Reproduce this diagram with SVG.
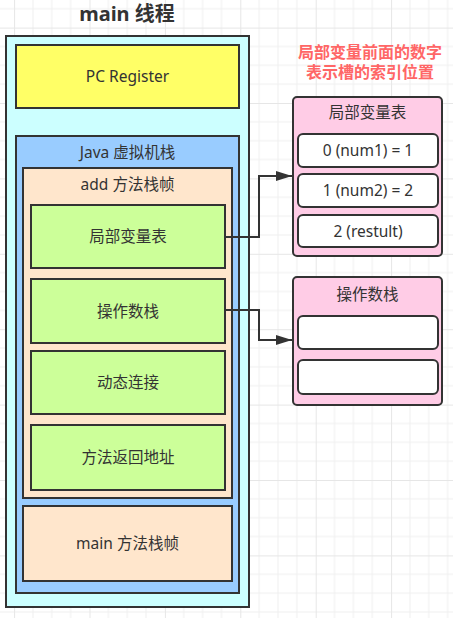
<svg xmlns="http://www.w3.org/2000/svg" width="453" height="618" viewBox="0 0 453 618">
  <defs>
    <pattern id="grid" patternUnits="userSpaceOnUse" x="14.1" y="27.6" width="75.4" height="75.4">
      <path d="M0 0H75.4M0 18.85H75.4M0 37.7H75.4M0 56.55H75.4M0 0V75.4M18.85 0V75.4M37.7 0V75.4M56.55 0V75.4" fill="none" stroke="#efefef" stroke-width="1"/>
      <path d="M0 0.5H75.4M0.5 0V75.4" fill="none" stroke="#e6e6e6" stroke-width="1"/>
    </pattern>
    <marker id="arrow" markerUnits="userSpaceOnUse" markerWidth="17" markerHeight="11" refX="16" refY="5.5" orient="auto">
      <path d="M0 0.5L16 5.5L0 10.5Z" fill="#333333"/>
    </marker>
    <style>
      .box{stroke:#333333;stroke-width:2}
      .t{font-family:"Noto Sans","Noto Sans CJK SC",sans-serif;font-size:15.5px;fill:#333333;text-anchor:middle}
      .red{font-family:"Noto Sans","Noto Sans CJK SC",sans-serif;font-size:16px;font-weight:bold;fill:#ff6666;text-anchor:middle}
      .conn{fill:none;stroke:#333333;stroke-width:2}
    </style>
  </defs>
  <rect width="453" height="618" fill="#ffffff"/>
  <rect width="453" height="618" fill="url(#grid)"/>

  <text x="127" y="21" style="font-family:'Noto Sans','Noto Sans CJK SC',sans-serif;font-size:20px;font-weight:bold;fill:#333333;text-anchor:middle">main 线程</text>

  <g id="main-thread">
    <rect class="box" x="6" y="36" width="243" height="571" fill="#ccffff"/>
  </g>
  <g id="pc-register">
    <rect class="box" x="16" y="45" width="223" height="63" fill="#ffff66"/>
    <text class="t" x="127.5" y="82">PC Register</text>
  </g>
  <g id="java-stack">
    <rect class="box" x="16" y="136" width="223" height="457" fill="#99ccff"/>
    <text class="t" x="127.5" y="157.5">Java 虚拟机栈</text>
  </g>
  <g id="add-frame">
    <rect class="box" x="23" y="168" width="209" height="330" fill="#ffe6cc"/>
    <text class="t" x="127.5" y="189.5">add 方法栈帧</text>
  </g>
  <g id="local-vars">
    <rect class="box" x="31" y="205" width="194" height="63" fill="#ccff99"/>
    <text class="t" x="128" y="242">局部变量表</text>
  </g>
  <g id="operand-stack">
    <rect class="box" x="31" y="279" width="194" height="64" fill="#ccff99"/>
    <text class="t" x="128" y="316.5">操作数栈</text>
  </g>
  <g id="dynamic-link">
    <rect class="box" x="31" y="351" width="194" height="63" fill="#ccff99"/>
    <text class="t" x="128" y="388">动态连接</text>
  </g>
  <g id="return-address">
    <rect class="box" x="31" y="425" width="194" height="65" fill="#ccff99"/>
    <text class="t" x="128" y="463">方法返回地址</text>
  </g>
  <g id="main-frame">
    <rect class="box" x="23" y="506" width="209" height="75" fill="#ffe6cc"/>
    <text class="t" x="127.5" y="549">main 方法栈帧</text>
  </g>

  <g id="note">
    <text class="red" x="370" y="57.5">局部变量前面的数字</text>
    <text class="red" x="370" y="77.5">表示槽的索引位置</text>
  </g>

  <g id="local-var-table">
    <rect class="box" x="293" y="97" width="149" height="159" rx="4" fill="#ffcce6"/>
    <text class="t" x="367.5" y="117.5">局部变量表</text>
    <rect class="box" x="298" y="134" width="140" height="33" rx="5" fill="#ffffff"/>
    <text class="t" x="368" y="156">0 (num1) = 1</text>
    <rect class="box" x="298" y="174" width="140" height="33" rx="5" fill="#ffffff"/>
    <text class="t" x="368" y="196">1 (num2) = 2</text>
    <rect class="box" x="298" y="215" width="140" height="32" rx="5" fill="#ffffff"/>
    <text class="t" x="368" y="236.5">2 (restult)</text>
  </g>

  <g id="operand-stack-table">
    <rect class="box" x="293" y="277" width="149" height="128" rx="4" fill="#ffcce6"/>
    <text class="t" x="367.5" y="299.5">操作数栈</text>
    <rect class="box" x="298" y="316" width="140" height="33" rx="5" fill="#ffffff"/>
    <rect class="box" x="298" y="360" width="140" height="34" rx="5" fill="#ffffff"/>
  </g>

  <g id="connectors">
    <path class="conn" d="M225 237H259V176H292" marker-end="url(#arrow)"/>
    <path class="conn" d="M225 310H259V340H292" marker-end="url(#arrow)"/>
  </g>
</svg>
